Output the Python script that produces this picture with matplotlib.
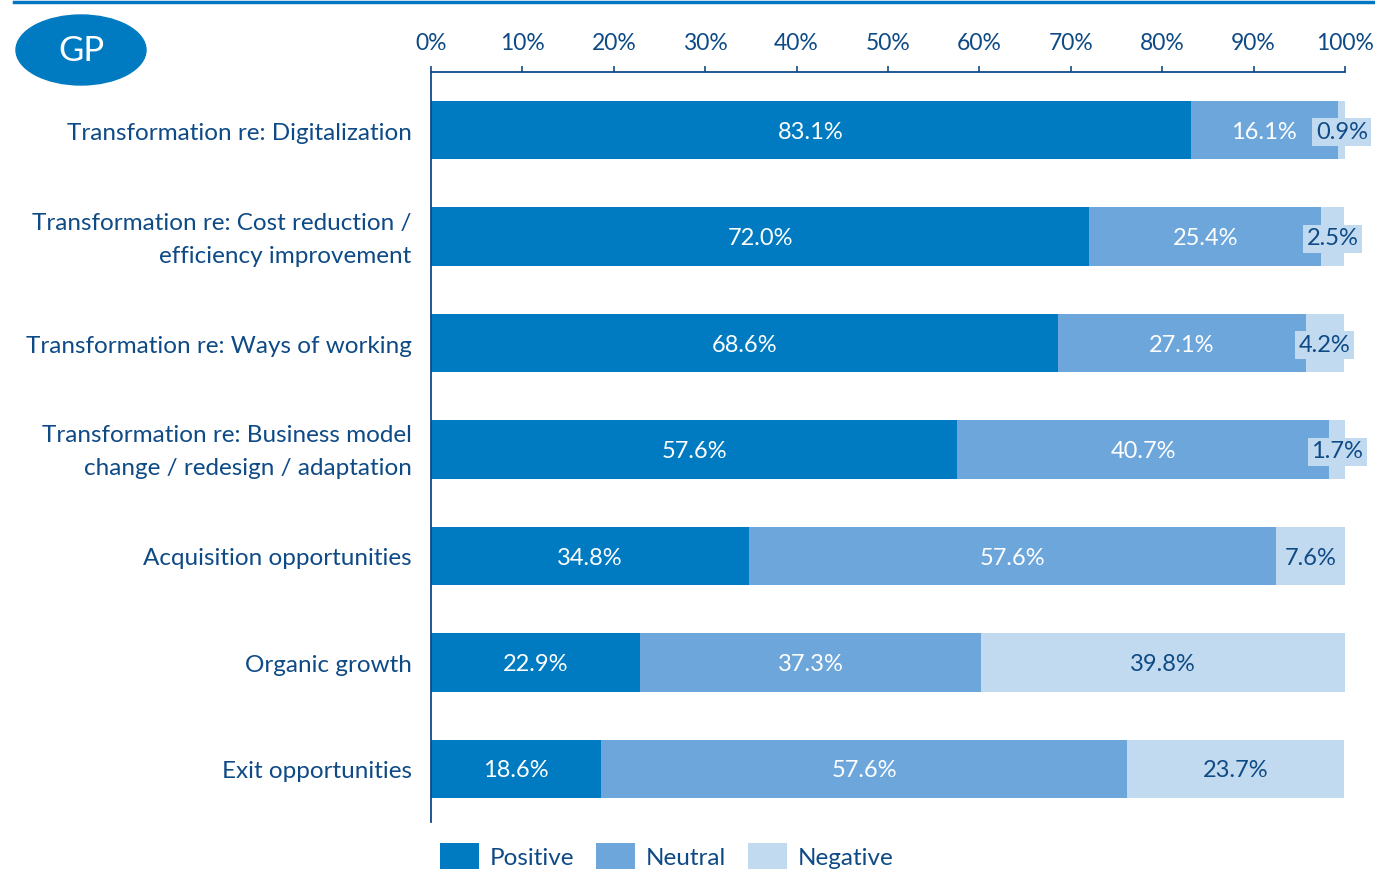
import matplotlib.pyplot as plt
from matplotlib.patches import Ellipse
from matplotlib.lines import Line2D
from matplotlib.transforms import ScaledTranslation

# Data
categories = [
    "Transformation re: Digitalization",
    "Transformation re: Cost reduction /\nefficiency improvement",
    "Transformation re: Ways of working",
    "Transformation re: Business model\nchange / redesign / adaptation",
    "Acquisition opportunities",
    "Organic growth",
    "Exit opportunities",
]
positive = [83.1, 72.0, 68.6, 57.6, 34.8, 22.9, 18.6]
neutral = [16.1, 25.4, 27.1, 40.7, 57.6, 37.3, 57.6]
negative = [0.9, 2.5, 4.2, 1.7, 7.6, 39.8, 23.7]
series_names = ["Positive", "Neutral", "Negative"]
ticks = list(range(0, 101, 10))

# Colours
c_pos = "#007bc2"
c_neu = "#6ca6db"
c_neg = "#c2daf0"
c_text = "#0e4a86"

plt.rcParams['font.family'] = ['Lato', 'DejaVu Sans']

fig = plt.figure(figsize=(13.75, 8.69), dpi=100)
ax = fig.add_axes([431 / 1375, 1 - 822 / 869, 914 / 1375, 750 / 869])

y = list(range(len(categories)))
h = 0.55
segments = [positive, neutral, negative]
colors = [c_pos, c_neu, c_neg]
left = [0.0] * len(categories)
for name, vals, col in zip(series_names, segments, colors):
    ax.barh(y, vals, left=left, height=h, color=col, label=name, edgecolor='none')
    for i, v in enumerate(vals):
        cx = left[i] + v / 2
        label = f"{v:.1f}%"
        if col == c_neg:
            if v < 5:
                ax.text(cx, i + 0.02, label, ha='center', va='center', fontsize=17, color=c_text,
                        bbox=dict(boxstyle='square,pad=0.15', fc=c_neg, ec='none'))
            else:
                ax.text(cx, i + 0.02, label, ha='center', va='center', fontsize=17, color=c_text)
        else:
            ax.text(cx, i + 0.02, label, ha='center', va='center', fontsize=17, color='white')
    left = [l + v for l, v in zip(left, vals)]

ax.set_xlim(0, 100)
ax.set_ylim(6.5, -0.546)
ax.xaxis.tick_top()
ax.set_xticks(ticks)
ax.set_xticklabels([f"{t}%" for t in ticks])
ax.tick_params(axis='x', colors=c_text, labelcolor=c_text, labelsize=16.5, length=4, width=1.2, pad=9)
ax.set_yticks(y)
ax.set_yticklabels(categories, fontsize=17.5, color=c_text, linespacing=1.7, va='center')
ax.tick_params(axis='y', length=0, pad=14)
# nudge category labels down a few pixels
shift = ScaledTranslation(0, -3 / 100, fig.dpi_scale_trans)
for lbl in ax.get_yticklabels():
    lbl.set_transform(lbl.get_transform() + shift)
for s in ['right', 'bottom']:
    ax.spines[s].set_visible(False)
for s in ['top', 'left']:
    ax.spines[s].set_color(c_text)
    ax.spines[s].set_linewidth(1.3)

# GP badge
ell = Ellipse((81 / 1375, 1 - 50 / 869), 130 / 1375, 70 / 869, transform=fig.transFigure,
              color=c_pos, clip_on=False)
fig.add_artist(ell)
fig.text(81 / 1375, 1 - 51 / 869, "GP", ha='center', va='center', fontsize=25, color='white')

# Top rule
fig.add_artist(Line2D([14 / 1375, 1], [1 - 1.5 / 869, 1 - 1.5 / 869], transform=fig.transFigure,
                      color='#0077c0', linewidth=2.5))

# Legend
fig.legend(loc='upper left', bbox_to_anchor=(440 / 1375, 1 - 843 / 869), ncol=3, frameon=False,
           fontsize=17.5, labelcolor=c_text, handlelength=1.6, handleheight=1.4,
           handletextpad=0.45, columnspacing=0.9, borderpad=0, borderaxespad=0)

fig.savefig("out.png", dpi=100)
